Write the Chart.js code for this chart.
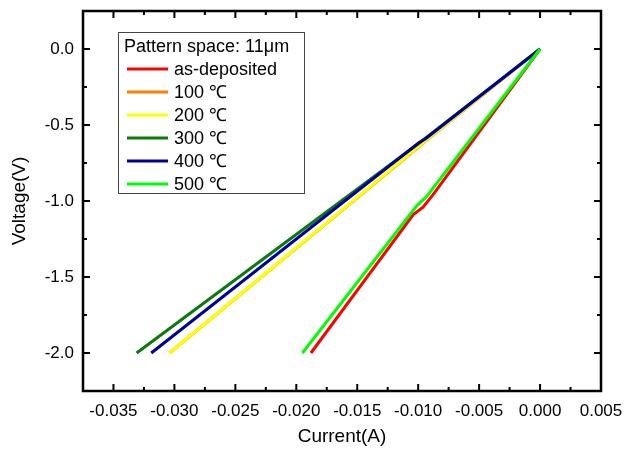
<!DOCTYPE html>
<html>
<head>
<meta charset="utf-8">
<script src="https://cdn.jsdelivr.net/npm/chart.js@4"></script>
<style>
  html, body { margin: 0; padding: 0; background: #fff; }
</style>
</head>
<body>
<canvas id="ivChart" width="632" height="450"></canvas>
<script>
// series labels and colours
const seriesLabels = ['as-deposited', '100 ℃', '200 ℃', '300 ℃', '400 ℃', '500 ℃'];
const seriesColors = ['#ff0000', '#ff8000', '#ffff00', '#0a7a0a', '#00009c', '#00ff00'];

// current (A) / voltage (V)
const currentAsDep = [0, -0.0087, -0.0096, -0.0104, -0.0188];
const voltageAsDep = [0, -0.95, -1.04, -1.09, -2.0];
const current100 = [0, -0.0093, -0.0099, -0.0304];
const voltage100 = [0, -0.60, -0.64, -2.0];
const current200 = [0, -0.0092, -0.0098, -0.0304];
const voltage200 = [0, -0.59, -0.63, -2.0];
const current300 = [0, -0.0093, -0.0101, -0.0331];
const voltage300 = [0, -0.58, -0.63, -2.0];
const current400 = [0, -0.0094, -0.0100, -0.0319];
const voltage400 = [0, -0.59, -0.62, -2.0];
const current500 = [0, -0.0093, -0.0101, -0.0195];
const voltage500 = [0, -0.97, -1.03, -2.0];

// axis ticks
const xTicks = [-0.035, -0.03, -0.025, -0.02, -0.015, -0.01, -0.005, 0, 0.005];
const yTicks = [0, -0.5, -1.0, -1.5, -2.0];
const legendTitle = 'Pattern space: 11μm';

const currents = [currentAsDep, current100, current200, current300, current400, current500];
const voltages = [voltageAsDep, voltage100, voltage200, voltage300, voltage400, voltage500];

const FONT = 'Liberation Sans, Arial, sans-serif';

const datasets = seriesLabels.map((label, i) => ({
    label: label,
    data: currents[i].map((c, k) => ({ x: c, y: voltages[i][k] })),
    borderColor: seriesColors[i],
    backgroundColor: seriesColors[i],
    borderWidth: 3,
    pointRadius: 0,
    showLine: true,
    order: seriesLabels.length - i   // later series on top, like the original
}));

// frame + inward ticks on all four sides
const framePlugin = {
    id: 'frame',
    afterDraw(chart) {
        const { ctx, chartArea: a, scales } = chart;
        const xs = scales.x, ys = scales.y;
        ctx.save();
        ctx.strokeStyle = '#000';
        ctx.lineWidth = 2;
        ctx.beginPath();
        xTicks.forEach((v, i) => {
            const px = xs.getPixelForValue(v);
            ctx.moveTo(px, a.bottom); ctx.lineTo(px, a.bottom - 7);
            ctx.moveTo(px, a.top); ctx.lineTo(px, a.top + 7);
            if (i < xTicks.length - 1) {
                const pm = xs.getPixelForValue((v + xTicks[i + 1]) / 2);
                ctx.moveTo(pm, a.bottom); ctx.lineTo(pm, a.bottom - 4);
                ctx.moveTo(pm, a.top); ctx.lineTo(pm, a.top + 4);
            }
        });
        yTicks.forEach((v, i) => {
            const py = ys.getPixelForValue(v);
            ctx.moveTo(a.left, py); ctx.lineTo(a.left + 7, py);
            ctx.moveTo(a.right, py); ctx.lineTo(a.right - 7, py);
            if (i < yTicks.length - 1) {
                const pm = ys.getPixelForValue((v + yTicks[i + 1]) / 2);
                ctx.moveTo(a.left, pm); ctx.lineTo(a.left + 4, pm);
                ctx.moveTo(a.right, pm); ctx.lineTo(a.right - 4, pm);
            }
        });
        ctx.stroke();
        ctx.lineWidth = 2.5;
        ctx.strokeRect(a.left, a.top, a.right - a.left, a.bottom - a.top);
        ctx.restore();
    }
};

// boxed legend in the upper left of the plot
const legendBoxPlugin = {
    id: 'legendBox',
    afterDraw(chart) {
        const ctx = chart.ctx;
        const a = chart.chartArea;
        const bx = a.left + 35, by = a.top + 21, bw = 186, bh = 161;
        ctx.save();
        ctx.fillStyle = '#fff';
        ctx.fillRect(bx, by, bw, bh);
        ctx.strokeStyle = '#444';
        ctx.lineWidth = 1;
        ctx.strokeRect(bx + 0.5, by + 0.5, bw, bh);
        ctx.fillStyle = '#000';
        ctx.font = '18px ' + FONT;
        ctx.textBaseline = 'middle';
        ctx.fillText(legendTitle, bx + 6, by + 15);
        chart.data.datasets.forEach((ds, i) => {
            const y = by + 37 + i * 23;
            ctx.strokeStyle = ds.borderColor;
            ctx.lineWidth = 3;
            ctx.beginPath();
            ctx.moveTo(bx + 9, y);
            ctx.lineTo(bx + 50, y);
            ctx.stroke();
            ctx.fillText(ds.label, bx + 56, y + 1);
        });
        ctx.restore();
    }
};

new Chart(document.getElementById('ivChart'), {
    type: 'scatter',
    data: { datasets: datasets },
    options: {
        responsive: false,
        animation: false,
        maintainAspectRatio: false,
        layout: { padding: { top: 11, right: 31, left: 0, bottom: 0 } },
        plugins: { legend: { display: false }, tooltip: { enabled: false } },
        scales: {
            x: {
                type: 'linear',
                min: -0.0375,
                max: 0.005,
                afterBuildTicks: s => { s.ticks = xTicks.map(v => ({ value: v })); },
                afterFit: s => { s.height = 59; s.paddingLeft = 0; s.paddingRight = 0; },
                grid: { display: false, drawTicks: false },
                border: { display: false },
                ticks: {
                    color: '#000',
                    padding: 10,
                    maxRotation: 0,
                    autoSkip: false,
                    font: { family: FONT, size: 17 },
                    callback: v => v.toFixed(3)
                },
                title: {
                    display: true,
                    text: 'Current(A)',
                    color: '#000',
                    font: { family: FONT, size: 19 },
                    padding: { top: 0, bottom: 2 }
                }
            },
            y: {
                type: 'linear',
                min: -2.25,
                max: 0.25,
                afterBuildTicks: s => { s.ticks = yTicks.map(v => ({ value: v })); },
                afterFit: s => { s.width = 83; s.paddingTop = 0; s.paddingBottom = 0; },
                grid: { display: false, drawTicks: false },
                border: { display: false },
                ticks: {
                    color: '#000',
                    padding: 9,
                    autoSkip: false,
                    font: { family: FONT, size: 17 },
                    callback: v => v.toFixed(1)
                },
                title: {
                    display: true,
                    text: 'Voltage(V)',
                    color: '#000',
                    font: { family: FONT, size: 19 },
                    padding: { top: 8, bottom: 0 }
                }
            }
        }
    },
    plugins: [framePlugin, legendBoxPlugin]
});
</script>
</body>
</html>
